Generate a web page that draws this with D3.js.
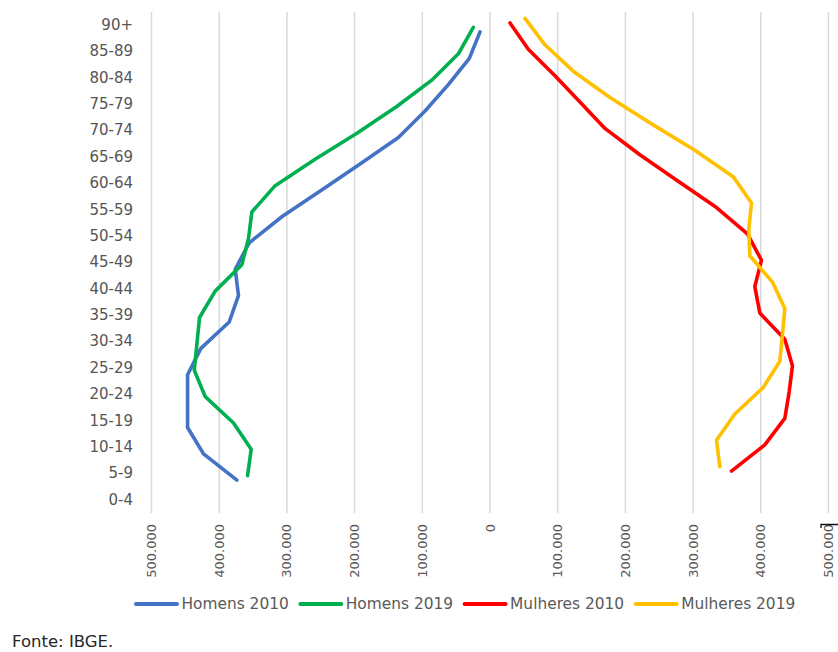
<!DOCTYPE html>
<html>
<head>
<meta charset="utf-8">
<script src="https://cdn.jsdelivr.net/npm/d3@7"></script>
<style>
  html, body { margin: 0; padding: 0; background: #fff; }
  svg { display: block; }
</style>
</head>
<body>
<svg id="chart" width="838" height="652"></svg>
<script>
// ---- Data ----
const ageGroups = ["0-4","5-9","10-14","15-19","20-24","25-29","30-34","35-39","40-44","45-49",
                   "50-54","55-59","60-64","65-69","70-74","75-79","80-84","85-89","90+"];
const seriesNames = ["Homens 2010","Homens 2019","Mulheres 2010","Mulheres 2019"];
const seriesColors = ["#4472C4","#00B050","#FF0000","#FFC000"];
const homens2010 = [null, 373100, 422400, 446000, 446000, 446000, 426300, 384500, 370800, 375600,
                    355000, 306300, 248400, 190700, 134600, 95200, 60800, 29800, 14000];
const homens2019 = [null, 357400, 352000, 378100, 419900, 436100, 432200, 428300, 405200, 365800,
                    356000, 351000, 316600, 257600, 195300, 137000, 85300, 46000, 23900];
const mulheres2010 = [null, 357400, 406600, 436200, 442600, 447500, 436200, 399300, 391900, 401700,
                      381000, 335300, 278700, 222100, 170500, 133600, 96700, 57300, 30300];
const mulheres2019 = [null, 340200, 335300, 362400, 404200, 428800, 432700, 436200, 418000, 384500,
                      383000, 387000, 359900, 303300, 239400, 177900, 123700, 81900, 52400];
const xTicks = [-500000,-400000,-300000,-200000,-100000,0,100000,200000,300000,400000,500000];
const sourceText = "Fonte: IBGE.";

const seriesValues = [homens2010, homens2019, mulheres2010, mulheres2019];
const seriesSign = [-1, -1, 1, 1];

// ---- Layout ----
const svg = d3.select("#chart");
const plot = { left: 151, right: 828, top: 12, bottom: 513 };
const labelFont = "'DejaVu Sans', sans-serif";
const textGray = "#595959";

const x = d3.scaleLinear().domain([-500000, 500000]).range([plot.left, plot.right]);
const y = d3.scaleBand().domain(ageGroups.slice().reverse()).range([plot.top, plot.bottom]).padding(0);
// series offset inside each age band (clustered, first series lowest)
const ySeries = d3.scaleBand().domain(seriesNames.slice().reverse()).range([-9, 9]);

const loc = d3.formatLocale({ decimal: ",", thousands: ".", grouping: [3], currency: ["R$", ""] });
const fmt = loc.format(",.0f");

// gridlines + x tick labels
const xAxis = d3.axisBottom(x)
  .tickValues(xTicks)
  .tickSizeInner(-(plot.bottom - plot.top))
  .tickSizeOuter(0)
  .tickFormat(d => d === 0 ? "0" : fmt(Math.abs(d)));

const gx = svg.append("g")
  .attr("transform", `translate(0,${plot.bottom})`)
  .call(xAxis);
gx.select(".domain").remove();
gx.selectAll(".tick line").attr("stroke", "#d9d9d9").attr("stroke-width", 1.5);
gx.selectAll(".tick text")
  .attr("transform", "rotate(-90)")
  .attr("x", -11)
  .attr("y", 0)
  .attr("dy", "0.35em")
  .attr("text-anchor", "end")
  .attr("fill", textGray)
  .style("font-family", labelFont)
  .style("font-size", "13px");

// small dark mark near the right-most tick label (present in the reference)
svg.append("path")
  .attr("d", `M${x(500000) - 7},528 V524.5 H838`)
  .attr("fill", "none")
  .attr("stroke", "#111")
  .attr("stroke-width", 1.3);

// y category labels
const yAxis = d3.axisLeft(y).tickSize(0).tickPadding(0);
const gy = svg.append("g")
  .attr("transform", `translate(133,0)`)
  .call(yAxis);
gy.select(".domain").remove();
gy.selectAll(".tick text")
  .attr("fill", "#555")
  .style("font-family", labelFont)
  .style("font-size", "15px");

// lines
const lineGen = d3.line()
  .defined(d => d.v != null)
  .x(d => x(d.sign * d.v))
  .y(d => y(d.age) + y.bandwidth() / 2 + ySeries(d.name) + ySeries.bandwidth() / 2);

seriesNames.forEach((name, i) => {
  const pts = ageGroups.map((age, j) => ({ age, v: seriesValues[i][j], sign: seriesSign[i], name }));
  svg.append("path")
    .datum(pts)
    .attr("d", lineGen)
    .attr("fill", "none")
    .attr("stroke", seriesColors[i])
    .attr("stroke-width", 3.6)
    .attr("stroke-linejoin", "round")
    .attr("stroke-linecap", "round");
});

// legend
const legend = svg.append("g").attr("transform", "translate(136,604)");
let lx = 0;
seriesNames.forEach((name, i) => {
  const g = legend.append("g").attr("transform", `translate(${lx},0)`);
  g.append("line")
    .attr("x1", 0).attr("x2", 41)
    .attr("y1", 0).attr("y2", 0)
    .attr("stroke", seriesColors[i])
    .attr("stroke-width", 4)
    .attr("stroke-linecap", "round");
  const t = g.append("text")
    .attr("x", 45.5)
    .attr("y", 0)
    .attr("dy", "0.35em")
    .attr("fill", textGray)
    .style("font-family", labelFont)
    .style("font-size", "15.4px")
    .text(name);
  lx += 45.5 + t.node().getComputedTextLength() + 11.5;
});

// source
svg.append("text")
  .attr("x", 12)
  .attr("y", 647)
  .attr("fill", "#262626")
  .style("font-family", labelFont)
  .style("font-size", "16.5px")
  .text(sourceText);
</script>
</body>
</html>
